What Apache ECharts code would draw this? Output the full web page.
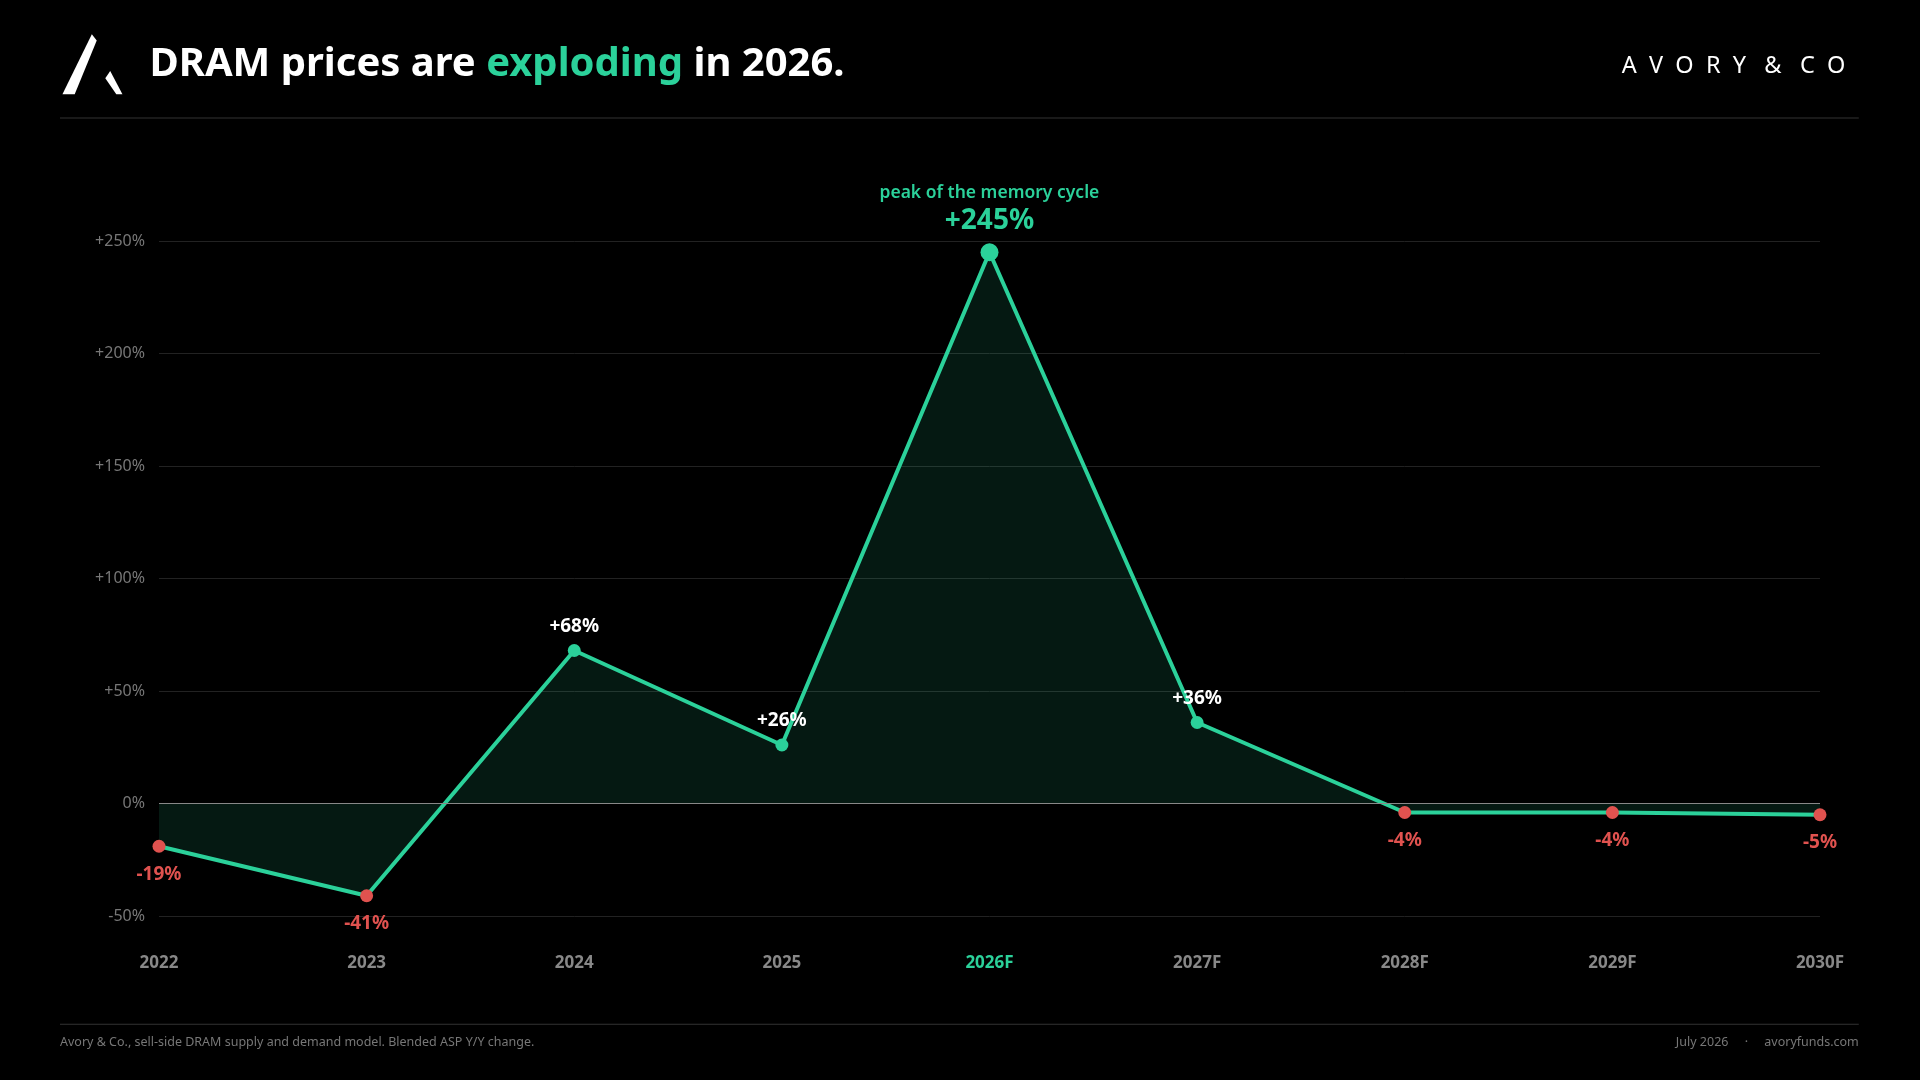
<!DOCTYPE html>
<html><head><meta charset="utf-8">
<script src="https://cdn.jsdelivr.net/npm/echarts@6/dist/echarts.min.js"></script>
<style>html,body{margin:0;background:#000;}#c{width:1920px;height:1080px;}</style>
</head><body><div id="c"></div>
<script>
const categories=['2022','2023','2024','2025','2026F','2027F','2028F','2029F','2030F'];
const values=[-19,-41,68,26,245,36,-4,-4,-5];
const yTicks=[-50,0,50,100,150,200,250];
const green='#2bd19a', red='#e0524f';
const S=1920/1568;
const p=(a)=>a.map(([x,y])=>[x*S,y*S]);
const chart=echarts.init(document.getElementById('c'));
chart.setOption({
 backgroundColor:'#000',
 animation:false,
 grid:{left:159,right:100,top:241,bottom:164},
 graphic:[
  {type:'polygon',shape:{points:p([[51,77],[61,77],[79,33],[75,28]])},style:{fill:'#fff'}},
  {type:'polygon',shape:{points:p([[86,64],[90,58],[100,77],[95,77]])},style:{fill:'#fff'}},
  {type:'text',x:122*S,y:53*S,style:{rich:{a:{fill:'#fff',font:'bold 40px "Noto Sans"'},b:{fill:green,font:'bold 40px "Noto Sans"'}},text:'{a|DRAM prices are }{b|exploding}{a| in 2026.}',verticalAlign:'middle'}},
  {type:'text',x:1507*S,y:54*S,style:{text:'A  V  O  R  Y   &   C  O',fill:'#fff',font:'23.5px "Noto Sans"',align:'right',verticalAlign:'middle'}},
  {type:'rect',shape:{x:49*S,y:96*S,width:1469*S,height:1},style:{fill:'#333'}},
  {type:'rect',shape:{x:49*S,y:836*S,width:1469*S,height:1},style:{fill:'#333'}},
  {type:'text',x:49*S,y:851*S,style:{text:'Avory & Co., sell-side DRAM supply and demand model. Blended ASP Y/Y change.',fill:'#777',font:'12.5px "Noto Sans"',verticalAlign:'middle'}},
  {type:'text',x:1518*S,y:851*S,style:{text:'July 2026     ·     avoryfunds.com',fill:'#777',font:'12.5px "Noto Sans"',align:'right',verticalAlign:'middle'}},
  {type:'text',x:808*S,y:158*S,style:{text:'peak of the memory cycle',fill:green,font:'600 17.5px "Noto Sans"',align:'center',verticalAlign:'middle'}}
 ],
 xAxis:{type:'category',data:categories,boundaryGap:false,
  axisLine:{show:false},axisTick:{show:false},
  axisLabel:{margin:39,fontFamily:'Noto Sans',fontWeight:'bold',fontSize:17,
   color:(v)=>v==='2026F'?green:'#888'}},
 yAxis:{type:'value',min:-50,max:250,interval:50,
  axisLabel:{fontFamily:'Noto Sans',fontSize:16,color:'#777',margin:14,formatter:v=>(v>0?'+':'')+v+'%'},
  splitLine:{lineStyle:{color:'#222'}},axisLine:{show:false},axisTick:{show:false}},
 series:[{type:'line',data:values.map((v,i)=>({value:v,
   symbolSize:i===4?18:13,
   itemStyle:{color:v<0?red:green},
   label:{show:true,position:v<0?'bottom':'top',distance:v<0?12:8,
    color:v<0?red:(i===4?green:'#fff'),fontSize:i===4?28:19,fontWeight:'bold',fontFamily:'Noto Sans',
    formatter:(v>0?'+':'')+v+'%'}})),
  symbol:'circle',lineStyle:{color:green,width:4},
  areaStyle:{color:'rgba(43,209,154,0.17)',origin:0},
  markLine:{silent:true,symbol:'none',label:{show:false},lineStyle:{color:'#888',type:'solid',width:1.2},data:[{yAxis:0}]}
 }]
});
</script></body></html>
